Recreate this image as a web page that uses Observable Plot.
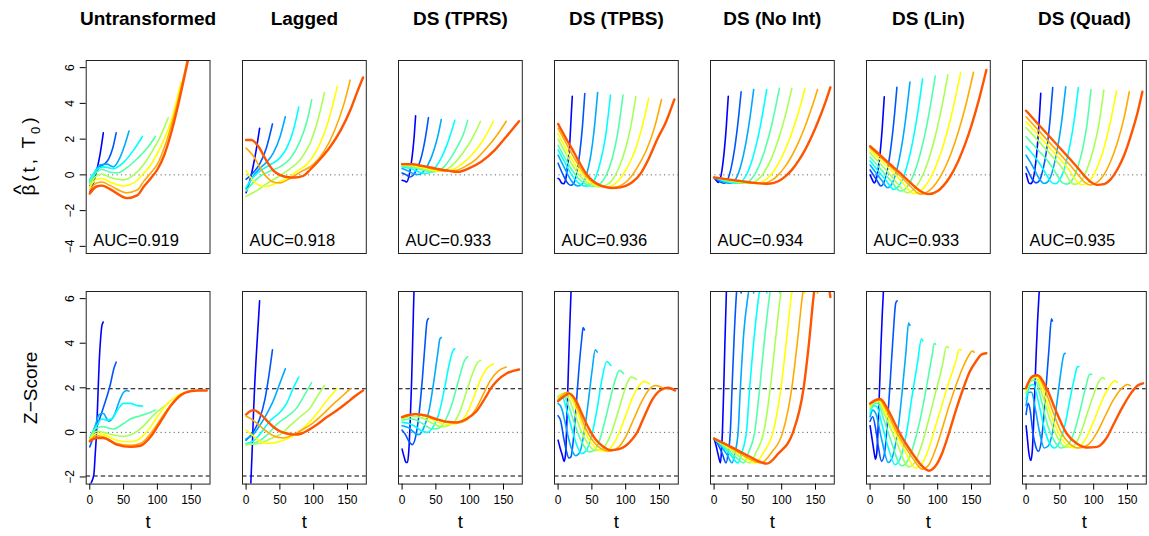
<!DOCTYPE html>
<html><head><meta charset="utf-8">
<script src="https://cdn.jsdelivr.net/npm/d3@7"></script>
<script src="https://cdn.jsdelivr.net/npm/@observablehq/plot@0.6"></script>
<style>
body{margin:0;background:#fff;}
#chart{position:relative;width:1149px;height:536px;overflow:hidden;background:#fff;}
</style></head><body><div id="chart"></div>
<script>
const titles = ["Untransformed", "Lagged", "DS (TPRS)", "DS (TPBS)", "DS (No Int)", "DS (Lin)", "DS (Quad)"];
const aucs = ["0.919", "0.918", "0.933", "0.936", "0.934", "0.933", "0.935"];
const curveColors = ["#0000FF", "#0055FF", "#00AAFF", "#00FFFF", "#55FFAA", "#AAFF55", "#FFFF00", "#FFAA00", "#FF5500"];
const betaTicks = [-4, -2, 0, 2, 4, 6];
const zTicks = [-2, 0, 2, 4, 6];
const tTicks = [0, 50, 100, 150];
const zRefLines = [-1.96, 1.96];

// each panel: 9 curves (T0 increasing), each a list of [t, value] points
const untransBeta = [
 [[0,-1.0],[5,-0.5],[10,0.2],[15,1.1],[20,2.35]],
 [[0,-0.6],[8,0.1],[15,0.45],[22,0.62],[28,0.9],[34,1.5],[39,2.35]],
 [[0,-0.4],[8,0.2],[15,0.55],[25,0.6],[35,0.45],[45,1.0],[52,1.7],[58,2.45]],
 [[0,-0.25],[10,0.3],[20,0.45],[35,0.35],[50,0.7],[65,1.4],[78,2.15]],
 [[0,-0.4],[10,0.15],[18,0.3],[30,0.15],[42,0.12],[55,0.4],[70,0.9],[85,1.5],[97,2.15]],
 [[0,-0.55],[10,-0.05],[18,0.05],[30,-0.15],[50,-0.28],[65,0.0],[80,0.6],[95,1.5],[105,2.2],[116,3.2]],
 [[0,-0.7],[10,-0.25],[18,-0.2],[30,-0.4],[50,-0.62],[65,-0.45],[80,0.1],[90,0.55],[100,1.2],[110,2.0],[120,3.0],[128,4.1],[135,5.2]],
 [[0,-0.85],[10,-0.45],[18,-0.4],[30,-0.6],[55,-1.0],[70,-0.85],[80,-0.35],[90,0.1],[100,0.6],[110,1.5],[120,2.7],[130,4.1],[140,5.7],[150,7.5],[154,8.2]],
 [[0,-1.05],[10,-0.65],[18,-0.6],[30,-0.8],[55,-1.3],[70,-1.15],[80,-0.65],[90,-0.2],[100,0.3],[110,1.1],[120,2.3],[130,3.8],[140,5.5],[150,7.3],[160,9.3],[173,12]]
];
const untransZ = [
 [[0,-2.4],[3,-2.2],[6,-1.9],[8,-1.0],[10,0.0],[12,1.6],[14,3.2],[16,4.2],[18,4.8],[20,4.95]],
 [[0,-0.65],[10,0.2],[20,1.1],[30,2.1],[36,2.9],[39,3.15]],
 [[0,-0.3],[8,0.3],[14,0.8],[20,0.85],[28,0.5],[35,0.7],[45,1.5],[50,1.8],[55,1.88],[58,1.85]],
 [[0,-0.25],[10,0.3],[18,0.6],[25,0.55],[32,0.6],[42,1.05],[50,1.3],[60,1.3],[70,1.2],[78,1.18]],
 [[0,-0.25],[10,0.2],[20,0.25],[35,0.15],[50,0.4],[60,0.6],[75,0.75],[90,0.9],[97,1.0]],
 [[0,-0.3],[10,0.05],[20,0.0],[35,-0.12],[50,-0.18],[65,-0.05],[80,0.3],[95,0.8],[105,1.05],[116,1.3]],
 [[0,-0.35],[10,-0.05],[20,-0.1],[40,-0.35],[55,-0.42],[70,-0.35],[85,0.05],[100,0.7],[115,1.3],[125,1.55],[135,1.75]],
 [[0,-0.35],[10,-0.15],[20,-0.2],[40,-0.5],[60,-0.58],[75,-0.5],[90,-0.05],[105,0.6],[120,1.25],[135,1.7],[145,1.85],[154,1.9]],
 [[0,-0.4],[10,-0.25],[20,-0.25],[40,-0.55],[60,-0.65],[75,-0.6],[90,-0.2],[105,0.5],[120,1.2],[135,1.68],[150,1.85],[160,1.88],[173,1.88]]
];
const laggedBeta = [
 [[0,-1.0],[5,-0.4],[10,0.4],[15,1.4],[20,2.6]],
 [[0,-0.25],[10,0.1],[20,0.6],[30,1.5],[39,2.85]],
 [[0,-0.8],[10,-0.1],[20,0.35],[30,0.7],[40,1.2],[50,2.1],[58,3.25]],
 [[0,-0.7],[10,-0.15],[20,0.2],[35,0.55],[50,0.95],[60,1.5],[70,2.5],[78,3.8]],
 [[0,-0.9],[10,-0.45],[20,-0.1],[35,0.2],[50,0.45],[65,0.9],[80,1.9],[90,3.0],[97,4.2]],
 [[0,-1.2],[15,-0.9],[30,-0.5],[50,-0.05],[65,0.35],[80,0.85],[95,1.8],[105,2.9],[116,4.6]],
 [[0,0.25],[10,-0.3],[20,-0.6],[30,-0.65],[45,-0.45],[60,-0.2],[75,0.2],[90,0.6],[105,1.4],[120,2.8],[135,4.95]],
 [[0,1.5],[10,1.1],[20,0.45],[30,-0.1],[40,-0.4],[50,-0.45],[65,-0.2],[80,0.15],[100,0.6],[115,1.3],[130,2.4],[145,4.0],[154,5.3]],
 [[0,1.95],[8,1.95],[18,1.6],[30,0.8],[40,0.25],[50,0.0],[60,-0.12],[72,-0.15],[85,-0.05],[95,0.3],[110,0.9],[125,1.6],[140,2.5],[155,3.7],[165,4.7],[173,5.45]]
];
const laggedZ = [
 [[0,-6],[4,-4],[7,-2.3],[9,-0.8],[11,0.9],[13,2.3],[15,3.4],[18,4.9],[20,5.9]],
 [[0,-0.35],[10,0.0],[20,0.6],[28,1.5],[34,2.6],[39,3.7]],
 [[0,-0.3],[10,-0.1],[20,0.3],[30,0.8],[40,1.4],[50,2.2],[58,2.85]],
 [[0,-0.5],[10,-0.4],[20,-0.1],[35,0.5],[50,0.9],[60,1.3],[70,2.0],[78,2.48]],
 [[0,-0.55],[15,-0.45],[30,-0.15],[45,0.35],[60,0.7],[75,1.1],[85,1.6],[97,2.23]],
 [[0,-0.55],[20,-0.5],[35,-0.3],[50,-0.1],[65,0.3],[80,0.7],[95,1.1],[105,1.6],[116,2.1]],
 [[0,0.1],[10,-0.15],[20,-0.4],[30,-0.5],[45,-0.45],[60,-0.3],[75,-0.05],[90,0.35],[105,0.85],[120,1.45],[135,1.98]],
 [[0,0.72],[10,0.55],[20,0.3],[30,0.05],[40,-0.15],[55,-0.25],[70,-0.1],[85,0.15],[100,0.45],[115,0.85],[130,1.3],[145,1.7],[154,1.95]],
 [[0,0.8],[6,0.95],[12,1.0],[20,0.85],[30,0.55],[40,0.25],[50,0.05],[60,-0.05],[72,-0.1],[82,-0.05],[92,0.1],[105,0.35],[120,0.7],[135,1.0],[150,1.35],[160,1.6],[173,1.88]]
];
const tprsBeta = [
 [[0,-0.3],[4,-0.35],[7,-0.4],[10,-0.1],[13,0.5],[16,1.4],[18,2.2],[20,3.3]],
 [[0,0.1],[6,0.0],[12,-0.12],[17,0.0],[22,0.35],[27,0.8],[31,1.4],[35,2.2],[39,3.2]],
 [[0,0.35],[10,0.2],[18,0.05],[25,0.02],[32,0.2],[38,0.55],[44,1.05],[50,1.75],[54,2.35],[58,3.1]],
 [[0,0.44],[12,0.35],[24,0.18],[34,0.08],[42,0.15],[50,0.45],[58,0.95],[66,1.65],[72,2.3],[78,3.05]],
 [[0,0.48],[15,0.42],[30,0.28],[42,0.15],[52,0.2],[62,0.45],[72,0.95],[82,1.6],[90,2.2],[97,3.05]],
 [[0,0.52],[15,0.48],[30,0.35],[45,0.22],[58,0.2],[70,0.4],[82,0.85],[94,1.45],[106,2.2],[116,3.0]],
 [[0,0.55],[15,0.52],[30,0.42],[45,0.28],[60,0.2],[75,0.3],[90,0.65],[105,1.2],[120,1.95],[135,3.0]],
 [[0,0.58],[15,0.57],[30,0.47],[50,0.3],[65,0.2],[80,0.25],[95,0.5],[110,0.9],[125,1.5],[140,2.2],[154,3.0]],
 [[0,0.6],[15,0.6],[30,0.5],[50,0.35],[70,0.22],[82,0.17],[98,0.35],[117,0.73],[137,1.38],[154,2.13],[173,3.0]]
];
const tprsZ = [
 [[0,-0.75],[3,-1.1],[6,-1.35],[8,-1.35],[10,-0.8],[12,0.5],[14,2.2],[16,4.5],[18,6.8],[20,8.5]],
 [[0,0.1],[5,-0.1],[10,-0.4],[15,-0.55],[20,-0.2],[25,0.8],[30,2.4],[34,4.0],[37,5.0],[39,5.1]],
 [[0,0.3],[10,0.2],[20,-0.05],[25,-0.1],[32,0.2],[40,1.0],[47,2.3],[53,3.6],[56,4.2],[58,4.25]],
 [[0,0.45],[10,0.4],[20,0.25],[30,0.05],[38,0.0],[45,0.2],[55,0.9],[63,2.0],[70,3.1],[75,3.65],[78,3.75]],
 [[0,0.55],[15,0.6],[30,0.4],[45,0.15],[55,0.2],[65,0.6],[75,1.4],[85,2.5],[92,3.2],[97,3.4]],
 [[0,0.6],[15,0.72],[30,0.65],[45,0.4],[60,0.25],[75,0.4],[85,0.9],[95,1.8],[105,2.7],[112,3.15],[116,3.23]],
 [[0,0.65],[20,0.8],[35,0.7],[50,0.5],[65,0.35],[80,0.4],[95,0.8],[105,1.5],[115,2.3],[125,2.85],[135,3.07]],
 [[0,0.7],[20,0.82],[35,0.78],[50,0.6],[65,0.45],[80,0.4],[95,0.55],[110,1.1],[120,1.7],[130,2.3],[142,2.75],[154,2.93]],
 [[0,0.68],[10,0.78],[20,0.82],[35,0.75],[50,0.6],[65,0.48],[80,0.45],[95,0.6],[110,0.95],[125,1.65],[131,1.96],[140,2.3],[155,2.65],[173,2.82]]
];
const tpbsBeta = [
 [[0,-0.2],[2,-0.25],[5,-0.45],[8,-0.5],[11,-0.3],[14,0.5],[17,1.6],[19,3.0],[21,4.4]],
 [[0,0.65],[5,0.2],[10,-0.2],[15,-0.5],[19,-0.58],[24,-0.4],[28,0.2],[32,1.2],[36,2.7],[39.5,4.55]],
 [[0,1.1],[8,0.5],[16,-0.1],[22,-0.45],[29,-0.62],[36,-0.5],[42,0.0],[48,1.0],[53,2.4],[58.5,4.6]],
 [[0,1.4],[10,0.7],[20,0.0],[30,-0.45],[40,-0.63],[48,-0.55],[56,-0.1],[63,0.8],[70,2.1],[77.5,4.47]],
 [[0,1.65],[10,0.95],[20,0.3],[30,-0.2],[40,-0.5],[50,-0.65],[60,-0.55],[70,-0.1],[80,0.9],[88,2.3],[96,4.47]],
 [[0,2.0],[10,1.3],[20,0.62],[30,0.05],[40,-0.35],[50,-0.55],[60,-0.67],[70,-0.6],[80,-0.3],[90,0.4],[100,1.5],[108,2.8],[115,4.37]],
 [[0,2.3],[10,1.6],[20,0.9],[30,0.3],[40,-0.15],[50,-0.45],[60,-0.62],[72,-0.68],[84,-0.5],[95,-0.05],[105,0.6],[115,1.5],[125,2.8],[134,4.28]],
 [[0,2.6],[10,1.9],[20,1.2],[30,0.55],[40,0.0],[50,-0.38],[60,-0.58],[70,-0.67],[82,-0.7],[95,-0.55],[108,-0.1],[120,0.6],[132,1.5],[143,2.7],[153,4.22]],
 [[0,2.85],[10,2.15],[20,1.5],[30,0.8],[40,0.15],[50,-0.3],[60,-0.55],[70,-0.68],[80,-0.74],[92,-0.7],[100,-0.62],[110,-0.4],[122,0.07],[134,0.9],[146,1.94],[160,3.0],[172,4.22]]
];
const tpbsZ = [
 [[0,-0.35],[3,-0.7],[6,-1.0],[9,-1.3],[11,-1.0],[13,0.5],[15,2.6],[17,4.5],[19,6.2],[20,6.8]],
 [[0,0.75],[4,0.5],[8,-0.2],[12,-0.8],[16,-1.15],[19,-1.1],[23,-0.2],[27,1.3],[31,2.9],[35,4.2],[37,4.7],[39,4.6]],
 [[0,1.3],[5,1.1],[10,0.5],[15,-0.2],[20,-0.75],[26,-1.05],[32,-0.9],[38,-0.1],[44,1.2],[50,2.7],[55,3.7],[58,3.6]],
 [[0,1.55],[6,1.6],[12,1.1],[20,0.2],[28,-0.6],[35,-0.95],[42,-0.8],[50,-0.1],[58,1.1],[65,2.4],[72,3.18],[78,3.0]],
 [[0,1.6],[6,1.72],[14,1.3],[22,0.6],[30,-0.1],[38,-0.6],[46,-0.88],[54,-0.8],[62,-0.3],[70,0.6],[78,1.6],[85,2.4],[91,2.78],[97,2.63]],
 [[0,1.6],[8,1.75],[16,1.5],[25,0.8],[35,0.0],[45,-0.55],[55,-0.82],[65,-0.75],[75,-0.3],[85,0.55],[95,1.55],[102,2.2],[108,2.48],[116,2.38]],
 [[0,1.5],[11,1.78],[20,1.5],[30,0.8],[40,0.0],[50,-0.5],[60,-0.8],[70,-0.85],[80,-0.6],[90,-0.05],[100,0.75],[110,1.55],[120,2.1],[127,2.29],[135,2.18]],
 [[0,1.45],[13,1.8],[22,1.55],[32,0.85],[42,0.1],[52,-0.4],[62,-0.7],[75,-0.85],[88,-0.7],[100,-0.2],[112,0.6],[124,1.4],[134,1.9],[144,2.1],[154,2.0]],
 [[0,1.4],[8,1.6],[16,1.75],[25,1.5],[35,0.85],[45,0.2],[55,-0.3],[65,-0.6],[78,-0.8],[90,-0.75],[100,-0.6],[110,-0.3],[117,0.0],[128,0.75],[140,1.5],[152,1.9],[163,2.0],[173,1.88]]
];
const noIntBeta = [
 [[0,-0.15],[3,-0.3],[6,-0.42],[9,-0.23],[12,0.35],[15,1.31],[18,2.66],[21,4.4]],
 [[0,-0.15],[5,-0.3],[10,-0.42],[15,-0.47],[20,-0.27],[25,0.35],[30,1.37],[35,2.81],[40,4.65]],
 [[0,-0.15],[8,-0.3],[16,-0.42],[25,-0.47],[32,-0.24],[40,0.58],[47,1.78],[53,3.18],[58.6,4.78]],
 [[0,-0.15],[12,-0.3],[24,-0.42],[35,-0.47],[45,-0.18],[55,0.68],[65,2.11],[72,3.46],[77.8,4.78]],
 [[0,-0.15],[15,-0.3],[30,-0.42],[44,-0.47],[55,-0.24],[65,0.38],[75,1.38],[85,2.76],[96.6,4.84]],
 [[0,-0.15],[20,-0.3],[40,-0.42],[53,-0.47],[65,-0.27],[75,0.2],[85,0.94],[95,1.96],[105,3.26],[115,4.84]],
 [[0,-0.15],[20,-0.27],[40,-0.4],[62,-0.48],[75,-0.31],[85,0.05],[95,0.62],[105,1.39],[115,2.36],[125,3.52],[134.5,4.84]],
 [[0,-0.15],[20,-0.25],[40,-0.37],[55,-0.45],[70,-0.48],[85,-0.31],[95,0.0],[105,0.46],[115,1.07],[125,1.83],[135,2.75],[145,3.82],[153,4.78]],
 [[0,-0.15],[20,-0.25],[40,-0.35],[60,-0.45],[80,-0.5],[95,-0.36],[105,-0.1],[115,0.28],[125,0.8],[135,1.43],[145,2.2],[155,3.1],[165,4.1],[172,4.9]]
];
const noIntZ = [
 [[0,-0.28],[3,-0.6],[6,-1.0],[9.4,-1.37],[11,-0.8],[12.3,0.0],[14.3,2.0],[16,4.0],[18.2,6.32],[20,8.0]],
 [[0,-0.28],[6,-0.55],[12,-0.95],[17.7,-1.37],[21,-0.9],[24,0.0],[26.6,2.0],[30,4.5],[34,6.6],[37,7.2],[40,6.25]],
 [[0,-0.28],[10,-0.6],[20,-1.05],[26.6,-1.37],[31,-0.9],[35.5,0.0],[38.9,2.0],[44,4.5],[51,6.32],[55,7.2],[58.6,6.25]],
 [[0,-0.28],[12,-0.6],[24,-1.0],[35.5,-1.37],[41,-0.9],[47.8,0.0],[52.7,2.0],[60,4.5],[67,6.32],[72,7.3],[78,6.25]],
 [[0,-0.28],[15,-0.65],[30,-1.05],[43.8,-1.37],[51,-0.9],[60,0.0],[67.5,2.0],[75,4.3],[83,6.32],[90,7.4],[97,6.25]],
 [[0,-0.28],[18,-0.65],[36,-1.05],[52.7,-1.37],[62,-0.9],[73.4,0.0],[83.2,2.0],[91,4.2],[99,6.32],[107,7.5],[115,6.25]],
 [[0,-0.28],[20,-0.65],[40,-1.0],[61,-1.37],[72,-0.95],[87,0.0],[99,2.0],[107,4.1],[115,6.32],[125,7.6],[134,6.25]],
 [[0,-0.28],[25,-0.7],[50,-1.15],[69.5,-1.37],[85,-0.9],[101.5,0.0],[115,2.0],[123,4.0],[131.5,6.32],[142,7.7],[153,6.25]],
 [[0,-0.28],[25,-0.65],[50,-1.05],[78,-1.4],[95,-0.95],[116.7,0.0],[132.5,2.0],[140,3.9],[148,6.32],[160,7.8],[172,6.07]]
];
const linBeta = [
 [[0,0.0],[3,-0.25],[6,-0.45],[9,-0.26],[12,0.32],[15,1.28],[18,2.63],[21,4.37]],
 [[0,0.27],[5,-0.02],[10,-0.3],[16,-0.62],[21,-0.37],[26,0.36],[31,1.59],[35,2.93],[39.7,4.9]],
 [[0,0.55],[9,0.1],[18,-0.35],[26,-0.72],[33,-0.45],[40,0.35],[47,1.68],[53,3.25],[59,5.2]],
 [[0,0.78],[12,0.22],[24,-0.33],[35,-0.82],[45,-0.48],[55,0.54],[65,2.25],[72,3.85],[77.6,5.37]],
 [[0,1.0],[15,0.35],[30,-0.3],[45,-0.9],[55,-0.66],[65,0.07],[75,1.29],[85,2.99],[96.4,5.53]],
 [[0,1.23],[15,0.62],[30,0.0],[42,-0.55],[54.5,-1.0],[65,-0.8],[75,-0.24],[85,0.67],[95,1.95],[105,3.59],[115,5.6]],
 [[0,1.38],[15,0.85],[30,0.3],[45,-0.3],[55,-0.75],[64,-1.05],[80,-0.7],[90,-0.12],[100,0.74],[110,1.87],[120,3.28],[134,5.72]],
 [[0,1.52],[15,1.0],[30,0.47],[45,-0.08],[60,-0.65],[74,-1.08],[90,-0.8],[105,-0.03],[120,1.22],[130,2.34],[140,3.67],[153,5.74]],
 [[0,1.6],[15,1.1],[30,0.58],[45,0.08],[60,-0.45],[72,-0.85],[86,-1.08],[100,-0.9],[118,-0.12],[130,0.74],[140,1.66],[150,2.77],[160,4.07],[172,5.87]]
];
const linZ = [
 [[0,0.3],[3,-0.3],[6,-0.9],[8,-1.2],[10,-0.9],[12,0.3],[14,2.0],[16,3.8],[18,5.3],[20,6.5]],
 [[0,0.5],[4,0.7],[8,0.2],[12,-0.6],[17,-1.3],[22,-0.8],[26,0.6],[30,2.4],[34,4.3],[38,5.8],[40,5.9]],
 [[0,0.7],[4,1.0],[9,0.8],[17,-0.3],[27,-1.35],[35,-0.9],[42,0.3],[48,2.0],[53,3.6],[57,4.9],[59,4.8]],
 [[0,0.85],[5,1.2],[10,1.15],[18,0.3],[27,-0.7],[37,-1.45],[46,-1.05],[54,0.0],[62,1.6],[70,3.1],[76,4.2],[78,4.1]],
 [[0,1.0],[6,1.3],[11,1.3],[20,0.6],[30,-0.3],[47,-1.5],[57,-1.2],[67,-0.3],[77,1.0],[85,2.3],[92,3.5],[95,4.0],[97,3.95]],
 [[0,1.1],[6,1.35],[12,1.38],[20,0.9],[30,0.2],[40,-0.5],[57,-1.55],[67,-1.3],[77,-0.5],[87,0.6],[97,1.8],[107,3.0],[113,3.85],[116,3.8]],
 [[0,1.2],[7,1.4],[13,1.42],[22,0.95],[32,0.3],[42,-0.3],[52,-0.85],[67,-1.6],[77,-1.4],[87,-0.7],[97,0.3],[107,1.3],[117,2.3],[127,3.2],[132,3.72],[135,3.7]],
 [[0,1.25],[8,1.42],[14,1.45],[24,1.0],[34,0.35],[44,-0.25],[54,-0.75],[64,-1.2],[77,-1.65],[87,-1.45],[97,-0.75],[107,0.2],[117,1.2],[127,2.1],[137,2.9],[146,3.45],[151,3.65],[154,3.6]],
 [[0,1.3],[8,1.45],[15,1.5],[25,1.1],[35,0.5],[45,-0.1],[55,-0.6],[65,-1.05],[75,-1.45],[87,-1.72],[97,-1.5],[107,-0.9],[117,0.0],[127,1.0],[137,1.9],[147,2.7],[157,3.2],[165,3.5],[172,3.55]]
];
const quadBeta = [
 [[0,0.07],[2,-0.2],[4,-0.45],[7,-0.49],[10,-0.3],[13,0.3],[16,1.3],[19,2.8],[21.7,4.56]],
 [[0,0.45],[5,0.05],[10,-0.3],[15,-0.45],[20,-0.3],[25,0.3],[30,1.3],[35,2.9],[39.4,4.88]],
 [[0,1.1],[8,0.6],[15,0.1],[21,-0.3],[27,-0.48],[33,-0.35],[39,0.2],[45,1.2],[52,2.8],[58.6,4.93]],
 [[0,1.6],[12,1.05],[24,0.4],[31,-0.05],[37,-0.4],[43,-0.5],[50,-0.25],[57,0.4],[64,1.5],[71,3.0],[77.3,4.88]],
 [[0,2.13],[15,1.5],[30,0.87],[40,0.35],[47,-0.1],[54,-0.45],[60,-0.52],[68,-0.3],[76,0.4],[84,1.5],[90,2.8],[96,4.78]],
 [[0,2.65],[20,1.82],[40,0.98],[50,0.55],[58,0.1],[65,-0.35],[72,-0.53],[80,-0.4],[90,0.3],[100,1.5],[108,2.9],[115,4.75]],
 [[0,2.97],[20,2.14],[40,1.3],[55,0.68],[65,0.2],[73,-0.25],[82,-0.55],[92,-0.42],[102,0.15],[112,1.1],[122,2.5],[134,4.71]],
 [[0,3.25],[20,2.42],[40,1.58],[60,0.75],[70,0.33],[78,-0.05],[86,-0.4],[95,-0.57],[105,-0.42],[115,0.0],[125,0.75],[135,1.8],[145,3.2],[152.7,4.65]],
 [[0,3.59],[20,2.75],[40,1.92],[60,1.09],[75,0.45],[85,0.0],[95,-0.38],[105,-0.56],[115,-0.52],[125,-0.25],[135,0.3],[145,1.1],[155,2.2],[165,3.5],[172,4.65]]
];
const quadZ = [
 [[0,0.3],[2,-0.3],[4,-0.9],[7,-1.26],[9,-0.9],[11,0.3],[13,2.0],[15,3.6],[17,5.0],[19,6.1],[20,6.6]],
 [[0,0.8],[3,1.3],[6,1.0],[10,0.0],[14,-0.6],[18,-0.85],[22,-0.5],[26,0.6],[30,2.2],[34,3.8],[37.5,5.1],[39,5.0]],
 [[0,1.2],[4,1.8],[8,1.8],[14,1.0],[20,0.0],[27,-0.7],[33,-0.6],[39,0.0],[45,1.2],[51,2.6],[56,3.5],[58,3.55]],
 [[0,1.5],[6,2.1],[11,2.15],[18,1.4],[26,0.3],[34,-0.45],[42,-0.7],[50,-0.4],[58,0.4],[65,1.5],[72,2.5],[76,2.95],[78,2.95]],
 [[0,1.7],[7,2.3],[13,2.35],[22,1.5],[32,0.3],[42,-0.4],[52,-0.7],[62,-0.55],[72,0.1],[80,1.0],[88,2.0],[94,2.6],[97,2.6]],
 [[0,1.8],[8,2.4],[14,2.45],[24,1.7],[35,0.6],[46,-0.2],[58,-0.65],[68,-0.65],[80,-0.1],[90,0.8],[100,1.7],[108,2.3],[113,2.45],[116,2.4]],
 [[0,1.9],[8,2.45],[15,2.5],[26,1.8],[38,0.7],[50,-0.15],[62,-0.6],[75,-0.7],[88,-0.3],[100,0.5],[112,1.4],[122,2.0],[131,2.3],[135,2.25]],
 [[0,1.95],[9,2.5],[16,2.55],[28,1.9],[40,0.9],[52,0.0],[64,-0.5],[78,-0.7],[92,-0.55],[105,0.0],[118,0.8],[130,1.5],[142,2.0],[150,2.15],[154,2.1]],
 [[0,2.0],[9,2.5],[17,2.56],[30,2.0],[45,0.9],[60,-0.05],[75,-0.5],[90,-0.68],[105,-0.65],[118,-0.3],[130,0.4],[142,1.1],[155,1.75],[165,2.1],[173,2.2]]
];

const betaPanels = [untransBeta, laggedBeta, tprsBeta, tpbsBeta, noIntBeta, linBeta, quadBeta];
const zPanels = [untransZ, laggedZ, tprsZ, tpbsZ, noIntZ, linZ, quadZ];

const FONT = '"Liberation Sans", Arial, Helvetica, sans-serif';
const frameW = 123.8;
const colLeft = c => 85.7 + 156.1 * c;
const rowSpec = [
  {frameTop: 60, frameH: 193, domain: [-4.4, 6.4], ticks: betaTicks},
  {frameTop: 290.7, frameH: 192.6, domain: [-2.32, 6.32], ticks: zTicks}
];
const chart = document.getElementById("chart");

function addBetaLabel(svg) {
  // y-axis title β̂(t, T0), written bottom-to-top like R
  const g = d3.select(svg).append("g")
    .attr("transform", "translate(35,156.5) rotate(-90)")
    .attr("fill", "#000").attr("font-family", FONT);
  const t = g.append("text").attr("x", -39).attr("y", 0).attr("font-size", 19)
    .attr("text-anchor", "start")
    .attr("textLength", 78).attr("lengthAdjust", "spacing");
  t.append("tspan").text("\u03B2");
  t.append("tspan").text("(t, T");
  t.append("tspan").attr("font-size", 13).attr("dy", 5).text("0");
  t.append("tspan").attr("dy", -5).text(")");
  g.append("text").attr("x", -33).attr("y", -7).attr("font-size", 21)
    .attr("text-anchor", "middle").text("^");
}

function panel(row, col, curves) {
  const spec = rowSpec[row];
  const ml = col === 0 ? colLeft(0) : 20;
  const mr = 8;
  const mt = row === 0 ? spec.frameTop : 6;
  const mb = row === 0 ? 6 : 536 - (spec.frameTop + spec.frameH);
  const data = curves.flatMap((pts, k) => pts.map(([t, v]) => ({t, v, k})));
  const marks = [
    Plot.ruleY([0], {stroke: "#666", strokeDasharray: "1.2,3.2", strokeWidth: 1})
  ];
  if (row === 1) marks.push(Plot.ruleY(zRefLines, {stroke: "#000", strokeDasharray: "4.5,3", strokeWidth: 1.1}));
  marks.push(Plot.line(data, {
    x: "t", y: "v", z: "k",
    stroke: d => curveColors[d.k],
    strokeWidth: d => d.k === 8 ? 2.4 : 1.6,
    curve: "monotone-x", clip: true
  }));
  marks.push(Plot.frame({stroke: "#222", strokeWidth: 1}));
  if (col === 0) {
    marks.push(Plot.axisY({ticks: spec.ticks, tickSize: 6, tickPadding: 6, tickRotate: -90, label: null, fontSize: 12}));
    if (row === 1) marks.push(Plot.text(["Z\u2212Score"], {frameAnchor: "left", dx: -(ml - 30), rotate: -90, fontSize: 19, textAnchor: "middle", lineAnchor: "middle"}));
  }
  if (row === 1) {
    marks.push(Plot.axisX({ticks: tTicks, tickSize: 6, tickPadding: 5, label: null, fontSize: 12}));
    marks.push(Plot.text(["t"], {frameAnchor: "bottom", dy: 38, fontSize: 18.5, lineAnchor: "middle"}));
  } else {
    marks.push(Plot.text([titles[col]], {frameAnchor: "top", dy: -42, fontSize: 19, fontWeight: "bold", lineAnchor: "middle", textAnchor: "middle"}));
    marks.push(Plot.text([`AUC=${aucs[col]}`], {frameAnchor: "bottom-left", dx: 7, dy: -13, fontSize: 16.5, textAnchor: "start", lineAnchor: "middle"}));
  }
  const svg = Plot.plot({
    width: ml + frameW + mr,
    height: mt + spec.frameH + mb,
    marginLeft: ml, marginRight: mr, marginTop: mt, marginBottom: mb,
    x: {domain: [-5.3, 177.8], ...(row === 0 ? {axis: null} : {})},
    y: {domain: spec.domain, ...(col !== 0 ? {axis: null} : {})},
    color: {type: "identity"},
    style: {background: "transparent", fontFamily: FONT, fontSize: "12px", color: "#000", overflow: "visible"},
    marks
  });
  svg.style.position = "absolute";
  svg.style.left = (colLeft(col) - ml) + "px";
  svg.style.top = (spec.frameTop - mt) + "px";
  chart.appendChild(svg);
  if (row === 0 && col === 0) addBetaLabel(svg);
}

betaPanels.forEach((p, c) => panel(0, c, p));
zPanels.forEach((p, c) => panel(1, c, p));
</script></body></html>
